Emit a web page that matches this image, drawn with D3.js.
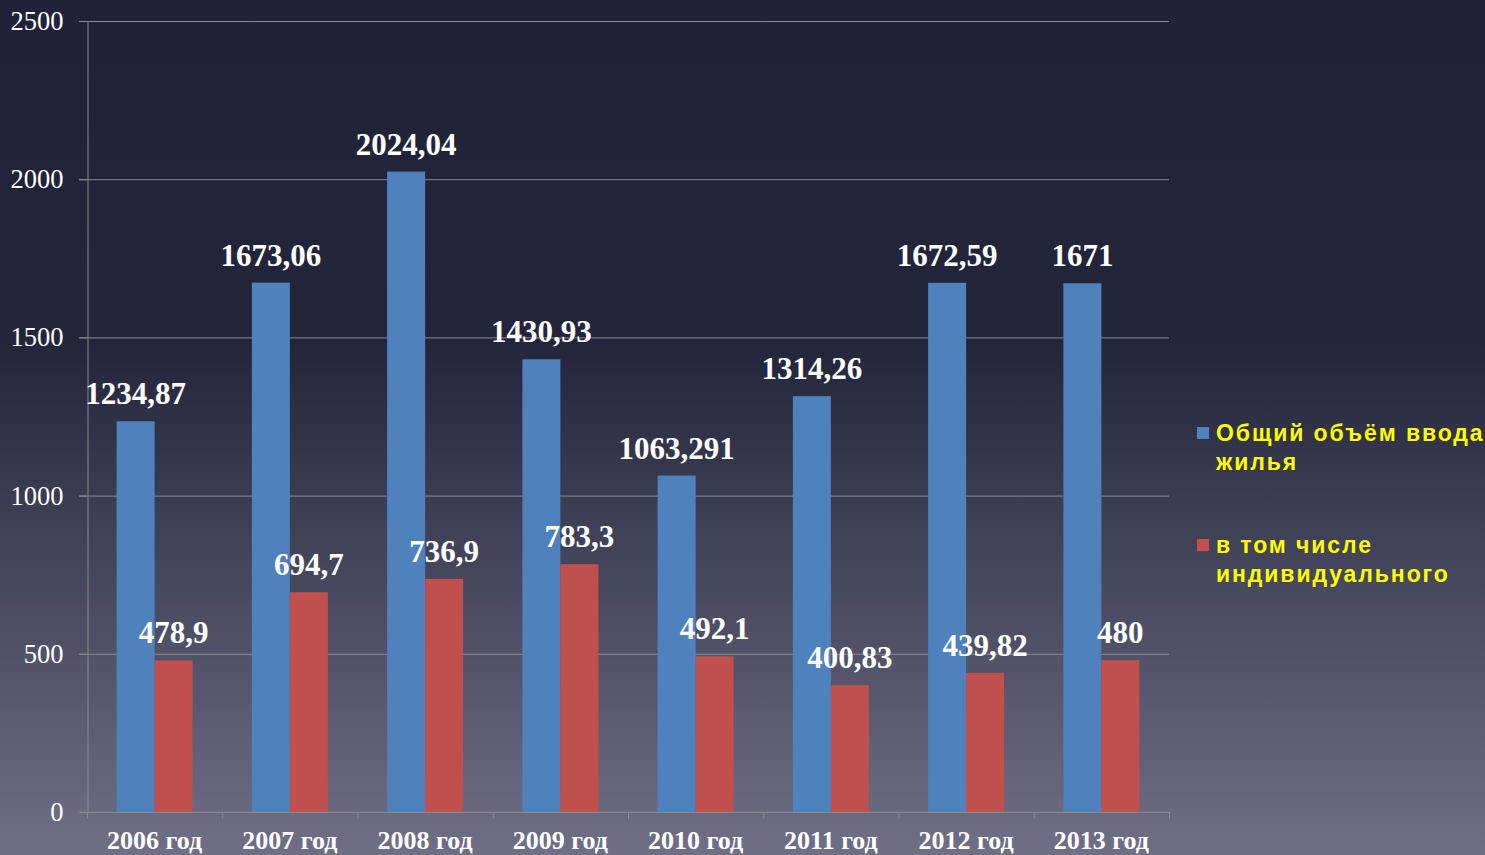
<!DOCTYPE html>
<html><head><meta charset="utf-8">
<script src="https://cdn.jsdelivr.net/npm/d3@7"></script>
<style>html,body{margin:0;padding:0;overflow:hidden;}</style>
</head><body>
<script>
const categories = ["2006 год","2007 год","2008 год","2009 год","2010 год","2011 год","2012 год","2013 год"];
const seriesNames = ["Общий объём ввода жилья","в том числе индивидуального"];
const totalValues = [1234.87,1673.06,2024.04,1430.93,1063.291,1314.26,1672.59,1671];
const totalLabels = ["1234,87","1673,06","2024,04","1430,93","1063,291","1314,26","1672,59","1671"];
const indivValues = [478.9,694.7,736.9,783.3,492.1,400.83,439.82,480];
const indivLabels = ["478,9","694,7","736,9","783,3","492,1","400,83","439,82","480"];
const yTicks = [0,500,1000,1500,2000,2500];
const legendLines = [["Общий объём ввода","жилья"],["в том числе","индивидуального"]];
const colors = ["#4F81BD","#C0504D"];

const W=1485,H=855;
const svg=d3.select("body").append("svg").attr("width",W).attr("height",H);
const defs=svg.append("defs");
const g=defs.append("linearGradient").attr("id","bg").attr("x1",0).attr("y1",0).attr("x2",0).attr("y2",1);
g.append("stop").attr("offset","0%").attr("stop-color","#202338");
g.append("stop").attr("offset","40%").attr("stop-color","#23263b");
g.append("stop").attr("offset","100%").attr("stop-color","#6f6f86");
svg.append("rect").attr("width",W).attr("height",H).attr("fill","url(#bg)");

const pLeft=87,pRight=1169,pTop=21,pBottom=812;
const y=d3.scaleLinear().domain([0,2500]).range([pBottom,pTop]);
const x0=d3.scaleBand().domain(categories).range([pLeft,pRight]).paddingInner(0.438).paddingOuter(0.219);
const x1=d3.scaleBand().domain([0,1]).range([0,x0.bandwidth()]);
const step=x0.step();

// gridlines
svg.append("g").selectAll("line").data(yTicks.filter(d=>d>0)).join("line")
 .attr("x1",pLeft-8).attr("x2",pRight).attr("y1",d=>y(d)+0.5).attr("y2",d=>y(d)+0.5)
 .attr("stroke","#8a8a8e").attr("stroke-width",1);

// y axis
const yAxis=svg.append("g").attr("transform",`translate(${pLeft+0.5},0)`)
 .call(d3.axisLeft(y).tickValues(yTicks).tickSize(8).tickPadding(16).tickFormat(d=>d));
yAxis.select(".domain").attr("stroke","#8a8a8e");
yAxis.selectAll(".tick line").attr("stroke","#8a8a8e");
yAxis.selectAll("text").attr("fill","#ffffff").attr("font-family","Liberation Serif, serif")
 .attr("font-size",26.5).attr("font-weight","normal").attr("dy","0.32em");

// x axis
const xAxis=svg.append("g").attr("transform",`translate(0,${pBottom+0.5})`)
 .call(d3.axisBottom(x0).tickSize(0).tickPadding(18));
xAxis.select(".domain").attr("stroke","#8a8a8e").attr("d",`M${pLeft},0H${pRight}`);
xAxis.selectAll("text").attr("fill","#ffffff").attr("font-family","Liberation Serif, serif")
 .attr("font-size",26).attr("font-weight","bold");
// boundary ticks
svg.append("g").selectAll("line").data(d3.range(categories.length+1)).join("line")
 .attr("x1",i=>pLeft+i*step+0.5).attr("x2",i=>pLeft+i*step+0.5)
 .attr("y1",pBottom).attr("y2",pBottom+7).attr("stroke","#8a8a8e");

const data=categories.map((c,i)=>({c,vals:[totalValues[i],indivValues[i]],labs:[totalLabels[i],indivLabels[i]]}));
const grp=svg.append("g").selectAll("g").data(data).join("g").attr("transform",d=>`translate(${x0(d.c)},0)`);
grp.selectAll("rect").data(d=>d.vals.map((v,k)=>({v,k}))).join("rect")
 .attr("x",d=>x1(d.k)).attr("width",x1.bandwidth()).attr("y",d=>y(d.v)).attr("height",d=>pBottom-y(d.v))
 .attr("fill",d=>colors[d.k]);
grp.selectAll("text").data(d=>d.vals.map((v,k)=>({v,k,l:d.labs[k]}))).join("text")
 .attr("x",d=>x1(d.k)+x1.bandwidth()/2).attr("y",d=>y(d.v)-17)
 .attr("text-anchor","middle").attr("fill","#ffffff").attr("font-family","Liberation Serif, serif")
 .attr("font-weight","bold").attr("font-size",31).text(d=>d.l);

// legend
const leg=svg.append("g");
const legY=[433,545];
legendLines.forEach((lines,k)=>{
  leg.append("rect").attr("x",1197).attr("y",legY[k]-6).attr("width",12).attr("height",12).attr("fill",colors[k]);
  lines.forEach((t,j)=>{
    leg.append("text").attr("x",1216).attr("y",legY[k]+8+j*29).attr("fill","#ffff00")
     .attr("font-family","Liberation Sans, Arial, sans-serif").attr("font-weight","bold")
     .attr("font-size",23).attr("letter-spacing","1.9px").text(t);
  });
});
</script>
</body></html>
